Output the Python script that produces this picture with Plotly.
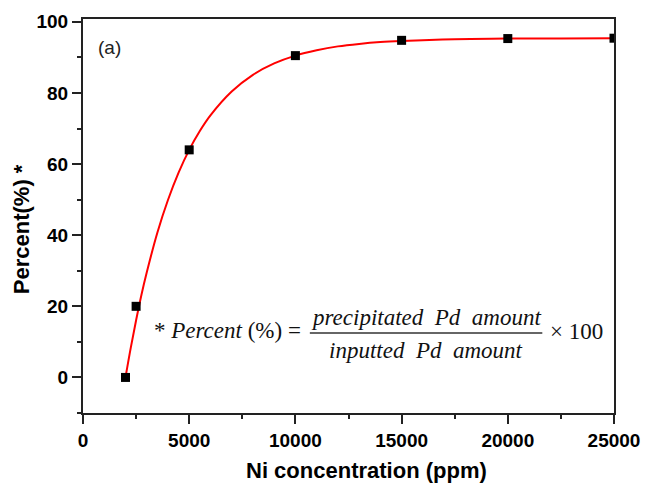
import plotly.graph_objects as go

# measured data points
ni_ppm = [2000, 2500, 5000, 10000, 15000, 20000, 25000]
percent = [0, 20, 64, 90.5, 94.8, 95.3, 95.4]

# fitted curve
fit_x = [2000, 2250, 2500, 2750, 3000, 3500, 4000, 4500, 5000, 5500, 6000, 7000,
         8000, 9000, 10000, 11000, 12000, 13000, 14000, 15000, 17500, 20000, 22500, 25000]
fit_y = [0, 8.4, 16.1, 23.2, 29.5, 40.7, 49.9, 57.6, 64.0, 69.3, 73.7, 80.4,
         85.1, 88.3, 90.5, 92.0, 93.1, 93.8, 94.3, 94.6, 95.1, 95.3, 95.35, 95.4]

x_ticks = [0, 5000, 10000, 15000, 20000, 25000]
y_ticks = [0, 20, 40, 60, 80, 100]

AX = "#222222"
SANS = "Liberation Sans"
SERIF = "Liberation Serif"

fig = go.Figure()
fig.add_trace(go.Scatter(x=fit_x, y=fit_y, mode="lines",
                         line=dict(color="#ff0000", width=2), line_shape="spline",
                         showlegend=False, hoverinfo="skip"))
fig.add_trace(go.Scatter(x=ni_ppm, y=percent, mode="markers",
                         marker=dict(symbol="square", size=9, color="black"),
                         showlegend=False))

axis_common = dict(showline=True, linecolor=AX, linewidth=2, mirror=True,
                   ticks="outside", ticklen=9, tickwidth=2, tickcolor=AX,
                   showgrid=False, zeroline=False,
                   tickfont=dict(family=SANS, size=19, color="black", weight="bold"))

fig.update_xaxes(range=[0, 25000], tickvals=x_ticks, ticktext=[str(v) for v in x_ticks],
                 minor=dict(dtick=2500, tick0=0, ticks="outside", ticklen=4,
                            tickwidth=2, tickcolor=AX, showgrid=False),
                 **axis_common)
fig.update_yaxes(range=[-10, 100.8], tickvals=y_ticks, ticktext=[str(v) for v in y_ticks],
                 minor=dict(dtick=10, tick0=0, ticks="outside", ticklen=4,
                            tickwidth=2, tickcolor=AX, showgrid=False),
                 **axis_common)

ann = []
ann.append(dict(text="Ni concentration (ppm)", xref="paper", yref="paper",
                x=0.534, y=-0.147, xanchor="center", yanchor="middle", showarrow=False,
                font=dict(family=SANS, size=22, color="black", weight="bold")))
ann.append(dict(text="Percent(%) *", xref="paper", yref="paper", textangle=-90,
                x=-0.1166, y=0.4667, xanchor="center", yanchor="middle", showarrow=False,
                font=dict(family=SANS, size=22, color="black", weight="bold")))
ann.append(dict(text="(a)", xref="x", yref="y", x=620, y=92.7,
                xanchor="left", yanchor="middle", showarrow=False,
                font=dict(family=SANS, size=19, color="#222222")))
ann.append(dict(text="* <i>Percent</i> (%) =", xref="x", yref="y", x=10368, y=13.3,
                xanchor="right", yanchor="middle", showarrow=False,
                font=dict(family=SERIF, size=23, color="#111111")))
ann.append(dict(text="<i>precipitated  Pd  amount</i>", xref="x", yref="y",
                x=16150, y=16.9, xanchor="center", yanchor="middle", showarrow=False,
                font=dict(family=SERIF, size=23, color="#111111")))
ann.append(dict(text="<i>inputted  Pd  amount</i>", xref="x", yref="y",
                x=16150, y=7.7, xanchor="center", yanchor="middle", showarrow=False,
                font=dict(family=SERIF, size=23, color="#111111")))
ann.append(dict(text="× 100", xref="x", yref="y", x=21900, y=12.8,
                xanchor="left", yanchor="middle", showarrow=False,
                font=dict(family=SERIF, size=23, color="#111111")))

fig.add_shape(type="line", xref="x", yref="y", x0=10680, x1=21625, y0=12.5, y1=12.5,
              line=dict(color="#333333", width=1.5))

fig.update_layout(width=652, height=491, margin=dict(l=83, r=31, t=16, b=78),
                  paper_bgcolor="white", plot_bgcolor="white", annotations=ann)

fig.write_html("out.html")
